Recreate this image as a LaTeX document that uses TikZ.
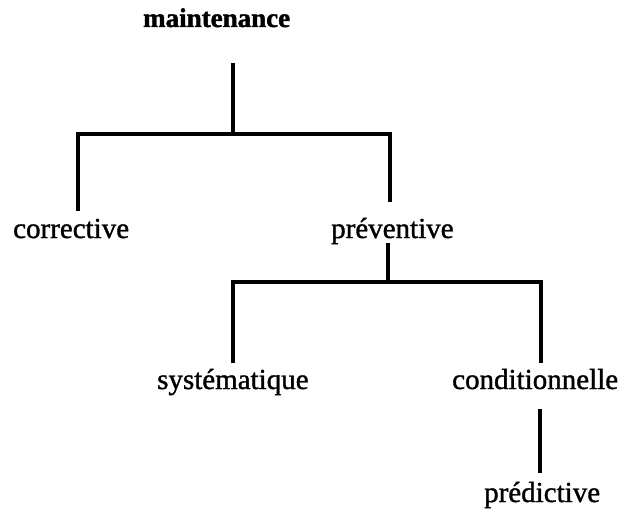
\documentclass[tikz,border=0pt]{standalone}
\usepackage{fontspec}
\setmainfont{Liberation Serif}[FakeBold=1.2]
\newfontfamily\boldtimes{Liberation Serif Bold}[FakeBold=1.5]
\tikzset{
  lbl/.style={anchor=base west, inner sep=0pt, font=\fontsize{29}{32}\selectfont},
  rootlbl/.style={anchor=base west, inner sep=0pt, font=\boldtimes\fontsize{27}{30}\selectfont},
  tree/.style={line width=3.5pt, line join=miter}
}
\begin{document}
\begin{tikzpicture}[x=1pt,y=-1pt]
\useasboundingbox (0,0) rectangle (621,513);
% labels
\node[rootlbl] (maint) at (143,27) {maintenance};
\node[lbl] (corr) at (13,238) {corrective};
\node[lbl] (prev) at (331,238) {préventive};
\node[lbl] (syst) at (157,389) {systématique};
\node[lbl] (cond) at (452,389) {conditionnelle};
\node[lbl] (pred) at (484,502) {prédictive};
% junction coordinates
\coordinate (mEnd) at (233,63);
\coordinate (j1) at (233,134);
\coordinate (cEnd) at (78,211);
\coordinate (pTop) at (390,202);
\coordinate (pBot) at (388,243);
\coordinate (j2) at (388,282);
\coordinate (sEnd) at (233,363);
\coordinate (kTop) at (541,363);
\coordinate (kBot) at (540,409);
\coordinate (dTop) at (540,473);
% connectors
\draw[tree] (mEnd) -- (j1);
\draw[tree] (cEnd) -- (cEnd |- j1) -- (pTop |- j1) -- (pTop);
\draw[tree] (pBot) -- (j2);
\draw[tree] (sEnd) -- (sEnd |- j2) -- (kTop |- j2) -- (kTop);
\draw[tree] (kBot) -- (dTop);
\end{tikzpicture}
\end{document}
